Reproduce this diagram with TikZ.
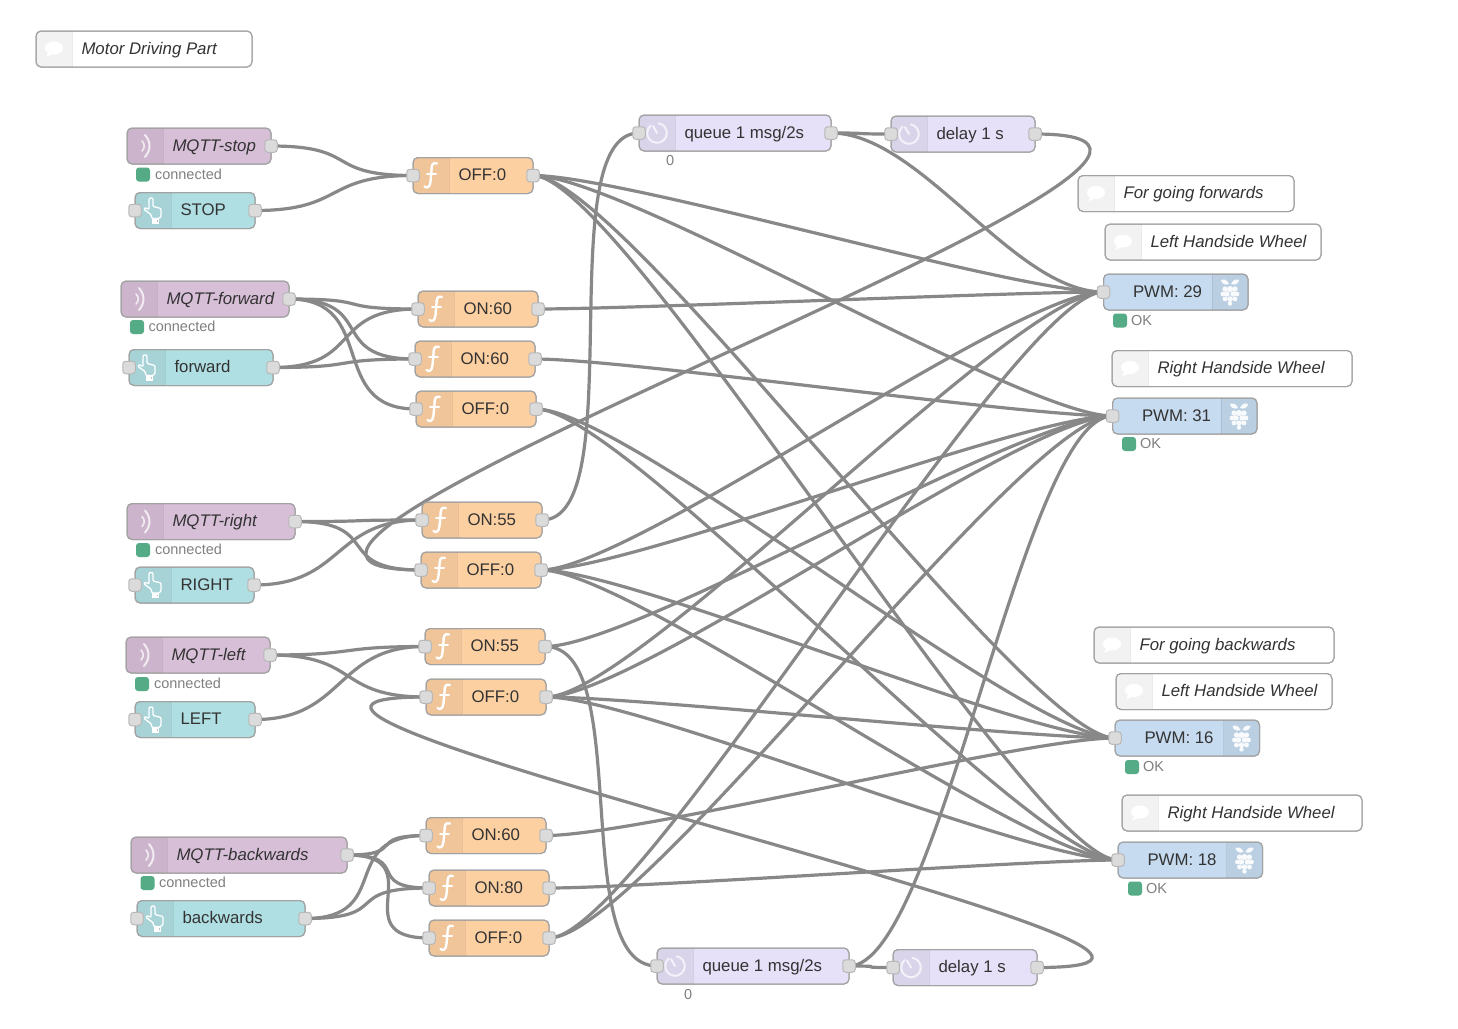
\documentclass[tikz,border=0pt]{standalone}
\usepackage{fontspec}
\setmainfont{Liberation Sans}
\usetikzlibrary{calc}
\pgfdeclarelayer{background}
\pgfsetlayers{background,main}
\definecolor{cmqtt}{HTML}{D8BFD8}
\definecolor{cinj}{HTML}{B0DFE3}
\definecolor{cfun}{HTML}{FDD0A2}
\definecolor{cdel}{HTML}{E6E0F8}
\definecolor{cpi}{HTML}{C6DBEF}
\definecolor{cwire}{HTML}{888888}
\definecolor{cedge}{HTML}{A2A2A2}
\definecolor{ctext}{HTML}{333333}
\definecolor{cok}{HTML}{55AB85}
\tikzset{
  nrbox/.style={rectangle,rounded corners=5pt,draw=cedge,line width=1pt,minimum height=36pt,inner sep=0pt,outer sep=0pt},
  port/.style={rectangle,rounded corners=3pt,draw=black!28,fill=black!14,line width=1pt,minimum width=12.5pt,minimum height=12.5pt,inner sep=0pt,outer sep=0pt},
  nrlabel/.style={anchor=base west,inner sep=0pt,outer sep=0pt,text=ctext,font=\fontsize{16.8}{20}\selectfont},
  statlabel/.style={anchor=base west,inner sep=0pt,outer sep=0pt,text=black!50,font=\fontsize{14.5}{17}\selectfont},
  dot/.style={rectangle,rounded corners=3pt,fill=cok,minimum width=14pt,minimum height=14pt,inner sep=0pt,outer sep=0pt},
  wire/.style={draw=cwire,line width=3.2pt,line cap=round},
  ico/.style={draw=white,line width=1.6pt,line cap=round,line join=round},
}
\newcommand\body[5]{%
  \node[nrbox,fill=#5,minimum width={(#3-#2)*1pt}] (#1) at ({(#2+#3)/2},#4) {};
}
\newcommand\barL[4]{%
  \begin{scope}
    \clip[rounded corners=5pt] (#1,#3-18) rectangle (#2,#3+18);
    \fill[black,opacity=#4] (#1,#3-18) rectangle (#1+36,#3+18);
  \end{scope}
  \draw[black,opacity=.08,line width=1pt] (#1+36,#3-18) -- (#1+36,#3+18);
  \draw[cedge,line width=1pt,rounded corners=5pt] (#1,#3-18) rectangle (#2,#3+18);
}
\newcommand\barR[3]{%
  \begin{scope}
    \clip[rounded corners=5pt] (#1,#3-18) rectangle (#2,#3+18);
    \fill[black,opacity=.05] (#2-36,#3-18) rectangle (#2,#3+18);
  \end{scope}
  \draw[black,opacity=.08,line width=1pt] (#2-36,#3-18) -- (#2-36,#3+18);
  \draw[cedge,line width=1pt,rounded corners=5pt] (#1,#3-18) rectangle (#2,#3+18);
}
\newcommand\icoF[2]{\begin{scope}[shift={(#1,#2)}]
  \draw[ico,line width=2.4pt] (6,-12) .. controls (1,-14) and (0.5,-9) .. (0.5,-5) -- (-0.5,6) .. controls (-1,12) and (-4,13) .. (-6.5,11);
  \draw[ico,line width=2pt] (-4,-2) -- (5,-2);
\end{scope}}
\newcommand\icoW[2]{\begin{scope}[shift={(#1,#2)}]
  \draw[ico,opacity=.75] (-3,-5) .. controls (0,-2) and (0,2) .. (-3,5);
  \draw[ico,opacity=.75,line width=2pt] (0,-11) .. controls (6,-4) and (6,4) .. (0,11);
\end{scope}}
\newcommand\icoH[2]{\begin{scope}[shift={(#1,#2)}]
  \draw[ico,line width=1.3pt,rounded corners=1pt] (-4,-1) -- (-4,-10) .. controls (-4,-13) and (0,-13) .. (0,-10) -- (0,-4) -- (8,-2) -- (8,6) -- (6,8) -- (-1,8) -- (-2,4) -- (-9,-1) -- (-8,-3) -- cycle;
  \fill[white] (-1,8) rectangle (6,13);
  \fill[black!25] (3.5,9.5) rectangle (5,11);
\end{scope}}
\newcommand\icoC[2]{\begin{scope}[shift={(#1,#2)}]
  \draw[ico,opacity=.7,line width=2pt] (-6.3,-7.5) arc[start angle=-130,end angle=-440,radius=9.8];
  \draw[ico,opacity=.7,line width=2pt] (0,0) -- (-4,-7);
\end{scope}}
\newcommand\icoB[2]{\begin{scope}[shift={(#1,#2)}]
  \fill[white] (0,-1) ellipse[x radius=9,y radius=6.5];
  \fill[white] (-5,2) -- (-8,8) -- (1,4) -- cycle;
\end{scope}}
\newcommand\icoP[2]{\begin{scope}[shift={(#1,#2)}]
  \fill[white,opacity=.9] (0,-3) circle[radius=3] (-5,-3) circle[radius=2.6] (5,-3) circle[radius=2.6]
    (-7,2) circle[radius=2.4] (7,2) circle[radius=2.4] (-3,2) circle[radius=2.7] (3,2) circle[radius=2.7]
    (-5,7) circle[radius=2.4] (5,7) circle[radius=2.4] (0,7) circle[radius=2.7] (0,11.5) circle[radius=2.2];
  \fill[white,opacity=.9] (-1,-8) .. controls (-3,-13) and (-7,-13) .. (-9,-12) .. controls (-9,-9) and (-5,-6) .. (-1,-8);
  \fill[white,opacity=.9] (1,-8) .. controls (3,-13) and (7,-13) .. (9,-12) .. controls (9,-9) and (5,-6) .. (1,-8);
\end{scope}}
\newcommand\mqttn[5]{\body{#1}{#2}{#3}{#4}{cmqtt}\barL{#2}{#3}{#4}{.05}\icoW{#2+18}{#4}
  \node[port] (#1-o) at (#3,#4) {};
  \node[nrlabel,font=\fontsize{16.8}{20}\selectfont\itshape] (#1-t) at (#2+45.5,#4+5) {#5};}
\newcommand\injn[5]{\body{#1}{#2}{#3}{#4}{cinj}\barL{#2}{#3}{#4}{.05}\icoH{#2+18}{#4}
  \node[port] (#1-i) at (#2,#4) {};
  \node[port] (#1-o) at (#3,#4) {};
  \node[nrlabel] (#1-t) at (#2+45.5,#4+5) {#5};}
\newcommand\funn[5]{\body{#1}{#2}{#3}{#4}{cfun}\barL{#2}{#3}{#4}{.05}\icoF{#2+18}{#4}
  \node[port] (#1-i) at (#2,#4) {};
  \node[port] (#1-o) at (#3,#4) {};
  \node[nrlabel] (#1-t) at (#2+45.5,#4+5) {#5};}
\newcommand\deln[5]{\body{#1}{#2}{#3}{#4}{cdel}\barL{#2}{#3}{#4}{.05}\icoC{#2+18}{#4}
  \node[port] (#1-i) at (#2,#4) {};
  \node[port] (#1-o) at (#3,#4) {};
  \node[nrlabel] (#1-t) at (#2+45.5,#4+5) {#5};}
\newcommand\pin[4]{\body{#1}{#2}{#2+144.5}{#3}{cpi}\barR{#2}{#2+144.5}{#3}\icoP{#2+126.5}{#3}
  \node[port] (#1-i) at (#2,#3) {};
  \node[nrlabel] (#1-t) at (#2+29.5,#3+5) {#4};}
\newcommand\comn[5]{\body{#1}{#2}{#3}{#4}{white}\barL{#2}{#3}{#4}{.05}\icoB{#2+18}{#4}
  \node[nrlabel,font=\fontsize{16.8}{20}\selectfont\itshape] (#1-t) at (#2+45.5,#4+5) {#5};}
\newcommand\stat[5]{\node[dot] (#1-d) at (#2,#3) {};
  \node[statlabel] (#1-s) at (#4,#3+4.5) {#5};}
\newcommand\wire[3][90]{\draw[wire] (#2-o.center) .. controls ($(#2-o.center)+(#1,0)$) and ($(#3-i.center)+(-#1,0)$) .. (#3-i.center);}
\begin{document}
\begin{tikzpicture}[x=1pt,y=-1pt]
\useasboundingbox (0,0) rectangle (1458,1028);
\begin{pgfonlayer}{background}
  \fill[white] (0,0) rectangle (1458,1028);
\end{pgfonlayer}
\comn{cM}{36}{252}{49}{Motor Driving Part}
\comn{cF}{1078}{1294}{193.5}{For going forwards}
\comn{cL1}{1105}{1321}{242}{Left Handside Wheel}
\comn{cR1}{1112}{1352}{368.5}{Right Handside Wheel}
\comn{cB}{1094}{1334}{645}{For going backwards}
\comn{cL2}{1116}{1332}{691.5}{Left Handside Wheel}
\comn{cR2}{1122}{1362}{813}{Right Handside Wheel}
\mqttn{ms}{127}{271}{146}{MQTT-stop}\stat{ms}{143}{174.5}{155}{connected}
\injn{is}{135}{255}{210.5}{STOP}
\mqttn{mf}{121}{289}{299}{MQTT-forward}\stat{mf}{137}{327}{148.5}{connected}
\injn{if}{129}{273}{367.5}{forward}
\mqttn{mr}{127}{295}{521.5}{MQTT-right}\stat{mr}{143}{550}{155}{connected}
\injn{ir}{135}{254}{585}{RIGHT}
\mqttn{ml}{126}{270}{655}{MQTT-left}\stat{ml}{142}{684}{154}{connected}
\injn{il}{135}{255}{719.5}{LEFT}
\mqttn{mb}{131}{347}{855}{MQTT-backwards}\stat{mb}{147.5}{883}{159}{connected}
\injn{ib}{137}{305}{918.5}{backwards}
\funn{f1}{413}{533}{175.5}{OFF:0}
\funn{f2}{418}{538}{309}{ON:60}
\funn{f3}{415}{535}{359}{ON:60}
\funn{f4}{416}{536}{409}{OFF:0}
\funn{f5}{422}{542}{520}{ON:55}
\funn{f6}{421}{541}{570}{OFF:0}
\funn{f7}{425}{545}{646.5}{ON:55}
\funn{f8}{426}{546}{697}{OFF:0}
\funn{f9}{426}{546}{835.5}{ON:60}
\funn{f10}{429}{549}{888}{ON:80}
\funn{f11}{429}{549}{938}{OFF:0}
\deln{q1}{639}{831}{133}{queue 1 msg/2s}
\node[statlabel] (q1-s) at (666,165) {0};
\deln{d1}{891}{1035}{134}{delay 1 s}
\deln{q2}{657}{849}{966}{queue 1 msg/2s}
\node[statlabel] (q2-s) at (684,999) {0};
\deln{d2}{893}{1037}{967.5}{delay 1 s}
\pin{p29}{1103.5}{292}{PWM: 29}\stat{p29}{1120}{320.5}{1131}{OK}
\pin{p31}{1112.5}{416}{PWM: 31}\stat{p31}{1129}{444}{1140}{OK}
\pin{p16}{1115}{738}{PWM: 16}\stat{p16}{1132}{767}{1143}{OK}
\pin{p18}{1118}{860}{PWM: 18}\stat{p18}{1135}{888.5}{1146}{OK}
\begin{pgfonlayer}{background}
\wire{ms}{f1}\wire{is}{f1}
\wire{mf}{f2}\wire{mf}{f3}\wire{mf}{f4}\wire{if}{f2}\wire{if}{f3}
\wire{mr}{f5}\wire{mr}{f6}\wire{ir}{f5}
\wire{ml}{f7}\wire{ml}{f8}\wire{il}{f7}
\wire[61]{mb}{f9}\wire[66]{mb}{f10}\wire[88]{mb}{f11}\wire{ib}{f9}\wire{ib}{f10}
\wire{f1}{p29}\wire{f1}{p31}\wire{f1}{p16}\wire{f1}{p18}
\wire{f2}{p29}
\wire{f3}{p31}
\wire{f4}{p16}\wire{f4}{p18}
\wire{f5}{q1}
\wire[45]{q1}{d1}\wire{q1}{p29}
\wire[330]{d1}{f6}
\wire{f6}{p29}\wire{f6}{p31}\wire{f6}{p16}\wire{f6}{p18}
\wire{f7}{p31}\wire{f7}{q2}
\wire[45]{q2}{d2}\wire{q2}{p31}
\wire[330]{d2}{f8}
\wire{f8}{p29}\wire{f8}{p31}\wire{f8}{p16}\wire{f8}{p18}
\wire{f9}{p16}
\wire{f10}{p18}
\wire{f11}{p29}\wire{f11}{p31}
\end{pgfonlayer}
\end{tikzpicture}
\end{document}
